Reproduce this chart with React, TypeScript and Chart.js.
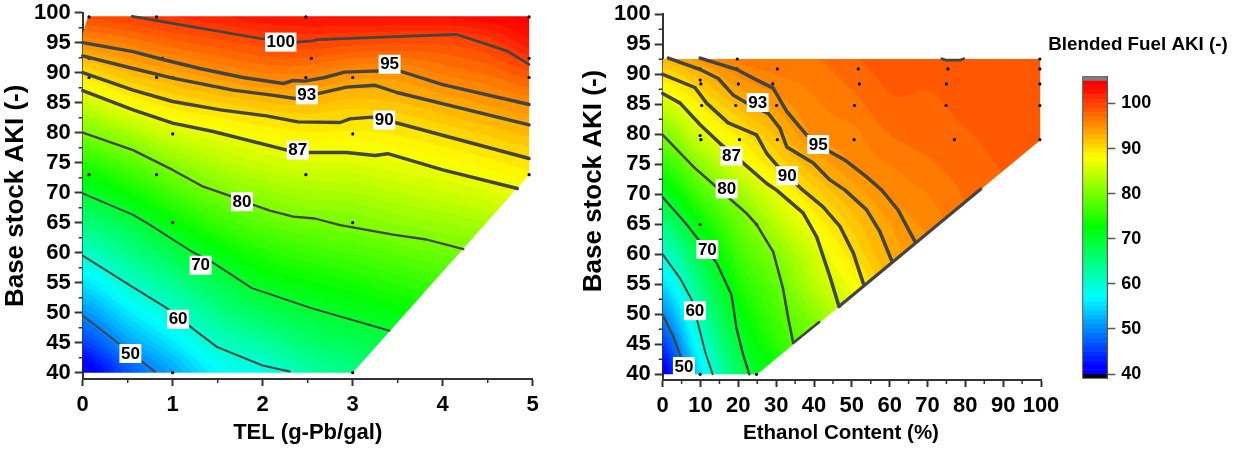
import React, { useEffect, useRef } from "react";
import { Chart, registerables } from "chart.js";

Chart.register(...registerables);

type P = number[];

// ---------- shared ticks ----------
const akiTicks = [40, 45, 50, 55, 60, 65, 70, 75, 80, 85, 90, 95, 100];
const akiMinorTicks = [42.5, 47.5, 52.5, 57.5, 62.5, 67.5, 72.5, 77.5, 82.5, 87.5, 92.5, 97.5];
const telTicks = [0, 1, 2, 3, 4, 5];
const telMinorTicks = [0.5, 1.5, 2.5, 3.5, 4.5];
const ethTicks = [0, 10, 20, 30, 40, 50, 60, 70, 80, 90, 100];
const ethMinorTicks = [5, 15, 25, 35, 45, 55, 65, 75, 85, 95];
const barTicks = [40, 50, 60, 70, 80, 90, 100];

// ---------- left panel: TEL ----------
const telGridX = [0, 0.5, 1, 1.5, 2, 2.5, 3, 3.5, 4, 4.5, 5];
const telGridY = [40, 45, 50, 55, 60, 65, 70, 75, 80, 85, 90, 95, 100];
const telField = [
  [40, 45.4, 50.5, 55.5, 60.5, 65.3, 70.1, 75, 80, 85, 90, 95, 99.5],
  [46.7, 51.2, 55.7, 60.2, 64.3, 68.4, 73, 77.7, 82.7, 87.8, 92.2, 96.2, 100.3],
  [51.7, 55.8, 60, 64.1, 68.2, 72.4, 76.7, 81.1, 85.6, 89.8, 93.6, 97.6, 101.2],
  [56.9, 60.6, 64.3, 67.9, 71.8, 75.8, 79.8, 83.5, 87, 90.9, 94.9, 98.6, 102],
  [58.9, 63, 67.2, 71.1, 74.6, 78.2, 81.6, 85, 88.2, 91.9, 96, 99.5, 103],
  [62.6, 66, 69.3, 72.7, 76.1, 79.5, 82.7, 85.9, 88.9, 92.3, 96, 99.9, 103.3],
  [64.5, 67.6, 70.8, 73.9, 77, 80.1, 83, 86, 88.8, 91.6, 94.9, 99.4, 103.5],
  [66, 69.1, 72.1, 75.2, 78.2, 81.2, 84, 86.9, 89.2, 92, 94.9, 99.2, 103.5],
  [67.7, 70.6, 73.4, 76.3, 79.2, 82, 84.9, 87.6, 90.2, 93.1, 96.2, 99.2, 103.5],
  [69.3, 72, 74.8, 77.5, 80.2, 83, 85.9, 88.6, 91.3, 94.3, 97.2, 100.2, 104],
  [72.5, 75, 77.5, 80, 82.5, 85, 87.4, 89.7, 92.4, 95.3, 98.8, 102.7, 104.5],
];
const telBoundary: P[] = [[0, 40], [3, 40], [4.96, 73], [4.96, 99.4], [0.06, 99.4], [0, 96.5]];
const telContour100: P[] = [[0.55, 99.4], [1.97, 95.7], [2.38, 95.1], [2.56, 95.3], [2.6, 95.5], [4.15, 96.4], [4.72, 93.6], [4.96, 91.4]];
const telContour95: P[] = [[0, 95], [0.56, 93.5], [0.89, 92.2], [1.3, 90.7], [1.78, 89.2], [2.23, 88.2], [2.34, 88.7], [2.47, 88.6], [2.69, 89.2], [2.91, 90.1], [3.3, 90.3], [3.54, 90.2], [4, 88], [4.96, 84.7]];
const telContour93: P[] = [[0, 92.8], [0.56, 90.7], [1, 89.1], [1.67, 87.1], [2.08, 86.3], [2.36, 85.7], [2.64, 86.6], [2.93, 87.6], [3.25, 87.9], [3.49, 86.7], [4.96, 81.3]];
const telContour90: P[] = [[0, 90], [0.56, 87.1], [1, 85.2], [1.53, 83.8], [2.04, 82.8], [2.39, 81.8], [2.86, 81.7], [2.97, 82.3], [3.21, 82.6], [3.47, 81.7], [4.96, 75.7]];
const telContour87: P[] = [[0, 87], [0.56, 83.8], [1, 81.6], [1.45, 80.2], [2.27, 77.1], [2.5, 76.7], [2.93, 76.7], [3.25, 76.2], [3.39, 76.5], [4, 73.8], [4.83, 70.7]];
const telContour80: P[] = [[0, 80], [0.56, 77.1], [1, 73.8], [1.34, 71], [1.67, 69.3], [1.89, 68], [2.08, 67], [2.34, 66], [2.58, 65.7], [2.86, 64.6], [3.45, 63], [3.82, 62.2], [4.23, 60.6]];
const telContour70: P[] = [[0, 69.9], [0.56, 66.3], [0.73, 64.8], [1.21, 60.2], [1.45, 58.3], [1.88, 54.1], [2.08, 53.1], [2.53, 50.8], [3.41, 47]];
const telContour60: P[] = [[0, 59.5], [0.49, 54.9], [0.93, 50.8], [1.27, 46.8], [1.49, 44.3], [2, 41.2], [2.3, 40.2]];
const telContour50: P[] = [[0, 49.5], [0.39, 45], [0.8, 40.2]];
const telDots: P[] = [[0.07, 99.3], [0.82, 99.3], [2.48, 99.3], [4.96, 99.3], [0.07, 92.4], [0.885, 92.4], [2.54, 92.4], [4.96, 92.4], [0.07, 89.2], [0.82, 89.2], [1, 89.2], [2.48, 89.2], [3, 89.2], [4.96, 89.2], [1, 79.8], [3, 79.8], [0.07, 73], [0.82, 73], [2.48, 73], [4.96, 73], [1, 65], [3, 65], [1, 40], [3, 40]];
const telLabels: [number, number, string][] = [[2.2, 95.1, "100"], [3.41, 91.4, "95"], [2.49, 86.3, "93"], [3.35, 82.1, "90"], [2.39, 77.1, "87"], [1.77, 68.5, "80"], [1.31, 57.9, "70"], [1.06, 48.9, "60"], [0.53, 43.2, "50"]];

// ---------- right panel: Ethanol ----------
const ethGridX = [0, 10, 20, 30, 40, 50, 60, 70, 80, 90, 100];
const ethGridY = [40, 45, 50, 55, 60, 65, 70, 75, 80, 85, 90, 95];
const ethField = [
  [40.5, 45.2, 50.1, 55, 60, 65.3, 70.5, 75.3, 80.1, 85.2, 90, 94.5],
  [55.5, 58.8, 62.1, 65.4, 68.7, 72.6, 76.9, 81.2, 85.7, 89.1, 92.6, 96],
  [67, 69.3, 71.6, 74, 76.3, 78.6, 81.8, 86.2, 89.3, 92.4, 95.2, 96.8],
  [73, 75, 76.8, 78.5, 80.6, 83.6, 86.7, 90, 92.2, 94.4, 96, 97],
  [78, 79.5, 81, 83.6, 85.3, 88, 90.4, 92.9, 95.2, 95.8, 96.5, 97.2],
  [81.5, 83.5, 85.5, 87.5, 89.7, 91.3, 93.1, 95, 95.7, 96.6, 97.4, 98.1],
  [89, 89, 90.5, 92, 93.2, 94, 95.1, 96, 97, 97.8, 98.3, 98.8],
  [92.5, 93, 93.5, 94, 94.5, 95.3, 96, 96.8, 97.5, 97.8, 98.3, 98.7],
  [95, 95.4, 95.7, 96, 96.4, 96.7, 97.1, 97.5, 97.9, 98.3, 98.6, 98.8],
  [96.3, 96.5, 96.8, 97, 97.2, 97.5, 97.8, 98.1, 98.4, 98.6, 98.7, 98.9],
  [97, 97.2, 97.4, 97.6, 97.8, 98, 98.3, 98.5, 98.7, 98.8, 98.8, 98.9],
];
const ethBoundary: P[] = [[0, 40], [25, 40], [99.8, 79], [99.8, 92.55], [0, 92.55]];
const ethContour100: P[] = [[73.8, 92.6], [75, 92.35], [78.5, 92.35], [79.6, 92.6]];
const ethContour95: P[] = [[9.9, 92.7], [19.6, 90.8], [24.4, 89.2], [29.2, 87.7], [32.8, 83.8], [38, 79.9], [44.2, 77.1], [48.2, 75.7], [53.9, 72.9], [57.9, 70.7], [62.2, 67.4], [66.7, 62.1]];
const ethContour93: P[] = [[1.5, 92.7], [9.9, 90.8], [14.7, 89.3], [18.7, 86.5], [22.2, 85.2], [27.9, 83.5], [31, 81], [32.8, 77.9], [39.8, 75.2], [44.2, 72.4], [48.2, 70.7], [53.9, 67.4], [57.4, 63.8], [60.5, 59]];
const ethContour90: P[] = [[0, 90], [8.5, 87.8], [11.6, 85.2], [17.3, 81.9], [24.8, 79.9], [27.5, 76.8], [30.1, 74.9], [36.5, 71], [42.4, 67.9], [46.9, 64.6], [50.4, 60.2], [53, 55.2]];
const ethContour87: P[] = [[0, 86.8], [4.6, 85.2], [9.9, 81.6], [15.1, 78.5], [21.3, 75.2], [27.5, 71.8], [30.1, 70.7], [37.1, 66.9], [40.7, 62.9], [44.2, 56.3], [46.6, 51.3]];
const ethContour80: P[] = [[0, 79.9], [8.1, 74.6], [22.2, 66.8], [24.8, 65], [29.2, 60.4], [31.8, 54.3], [33.2, 49.3], [34.5, 45.2], [41.4, 48.7]];
const ethContour70: P[] = [[0, 69.5], [6.3, 65], [14.3, 58.5], [18.2, 53.2], [19.5, 47.7], [21.3, 43.2], [22.9, 40]];
const ethContour60: P[] = [[0, 60], [4.6, 56], [7.7, 52.4], [9.9, 47.1], [11.2, 43.8], [13.2, 40]];
const ethContour50: P[] = [[0, 49.9], [2.8, 46.3], [4.6, 43.2], [5.2, 42]];
const ethEdge: P[] = [[46.6, 51.3], [84.1, 70.9]];
const ethDots: P[] = [[19.7, 92.55], [30.3, 90.9], [9.9, 90.9], [19.6, 90.9], [9.9, 89.05], [10.1, 88.4], [20, 88.4], [29.1, 88.4], [10.3, 84.8], [19.3, 84.8], [30.1, 84.8], [9.9, 79.8], [10.1, 79.1], [20.3, 79.1], [24.8, 79.8], [30.3, 79.1], [9.9, 65], [24.8, 65], [9.9, 40], [24.8, 40], [51.7, 90.9], [52, 88.4], [50.7, 84.8], [50.6, 79.1], [75.4, 90.9], [75, 88.4], [74.9, 84.8], [77.1, 79.1], [99.7, 92.55], [99.7, 90.9], [99.7, 88.4], [99.7, 84.8], [99.7, 79.1]];
const ethLabels: [number, number, string][] = [[41.1, 78.3, "95"], [25.1, 85.3, "93"], [32.9, 73.1, "90"], [18.2, 76.4, "87"], [16.9, 70.9, "80"], [11.8, 60.8, "70"], [8.5, 50.6, "60"], [5.6, 41.3, "50"]];

// ---------- colour bar ----------
const barMin = 40;
const barMax = 105;
const barLow = 39.05;
const barHigh = 105.95;

const FONT = '"Liberation Sans", Arial, sans-serif';
const INK = "#333333";
const LINE = "#444444";
const TEXT = "#000000";

const hueStops: [number, number[]][] = [
  [41.6, [0, 0, 255]],
  [57, [0, 255, 255]],
  [72.7, [0, 255, 0]],
  [88, [255, 255, 0]],
  [104, [255, 0, 0]],
];

function bandColour(v: number): number[] {
  const b = Math.floor(v) + 0.5;
  if (b <= hueStops[0][0]) return hueStops[0][1];
  for (let i = 1; i < hueStops.length; i++) {
    if (b <= hueStops[i][0]) {
      const [a0, c0] = hueStops[i - 1];
      const [a1, c1] = hueStops[i];
      const t = (b - a0) / (a1 - a0);
      return c0.map((c, k) => Math.round(c + (c1[k] - c) * t));
    }
  }
  return hueStops[hueStops.length - 1][1];
}

function locate(arr: number[], v: number): [number, number] {
  if (v <= arr[0]) return [0, 0];
  for (let i = 1; i < arr.length; i++) {
    if (v <= arr[i]) return [i - 1, (v - arr[i - 1]) / (arr[i] - arr[i - 1])];
  }
  return [arr.length - 2, 1];
}

function smooth(p0: number, p1: number, p2: number, p3: number, t: number) {
  return p1 + 0.5 * t * (p2 - p0 + t * (2 * p0 - 5 * p1 + 4 * p2 - p3 + t * (3 * (p1 - p2) + p3 - p0)));
}

function fieldPlugin(gx: number[], gy: number[], field: number[][], boundary: P[]) {
  const cols = gx.length;
  const rows = gy.length;
  const at = (c: number, r: number) => field[Math.max(0, Math.min(cols - 1, c))][Math.max(0, Math.min(rows - 1, r))];
  return {
    id: "field",
    beforeDatasetsDraw(chart: any) {
      const { ctx, chartArea: a, scales } = chart;
      const w = Math.ceil(a.width) + 1;
      const h = Math.ceil(a.height) + 1;
      const off = document.createElement("canvas");
      off.width = w;
      off.height = h;
      const oc = off.getContext("2d")!;
      const img = oc.createImageData(w, h);
      const ox = Math.floor(a.left);
      const oy = Math.floor(a.top);
      for (let j = 0; j < h; j++) {
        const [r, ry] = locate(gy, scales.y.getValueForPixel(oy + j + 0.5));
        for (let i = 0; i < w; i++) {
          const [c, rx] = locate(gx, scales.x.getValueForPixel(ox + i + 0.5));
          const q = [-1, 0, 1, 2].map((d) =>
            smooth(at(c + d, r - 1), at(c + d, r), at(c + d, r + 1), at(c + d, r + 2), ry),
          );
          const col = bandColour(smooth(q[0], q[1], q[2], q[3], rx));
          const o = (j * w + i) * 4;
          img.data[o] = col[0];
          img.data[o + 1] = col[1];
          img.data[o + 2] = col[2];
          img.data[o + 3] = 255;
        }
      }
      oc.putImageData(img, 0, 0);
      ctx.save();
      ctx.beginPath();
      boundary.forEach(([x, y], i) => {
        const px = scales.x.getPixelForValue(x);
        const py = scales.y.getPixelForValue(y);
        if (i === 0) ctx.moveTo(px, py);
        else ctx.lineTo(px, py);
      });
      ctx.closePath();
      ctx.clip();
      ctx.drawImage(off, ox, oy);
      ctx.restore();
    },
  };
}

function labelPlugin(labels: [number, number, string][]) {
  return {
    id: "contourLabels",
    afterDatasetsDraw(chart: any) {
      const { ctx, scales } = chart;
      ctx.save();
      ctx.font = `bold 17px ${FONT}`;
      ctx.textAlign = "center";
      ctx.textBaseline = "middle";
      labels.forEach(([x, y, t]) => {
        const px = scales.x.getPixelForValue(x);
        const py = scales.y.getPixelForValue(y);
        const tw = ctx.measureText(t).width + 3;
        ctx.fillStyle = "#ffffff";
        ctx.fillRect(px - tw / 2, py - 9.5, tw, 19);
        ctx.fillStyle = TEXT;
        ctx.fillText(t, px, py + 0.5);
      });
      ctx.restore();
    },
  };
}

function minorTickPlugin(xMinor: number[], yMinor: number[]) {
  return {
    id: "minorTicks",
    afterDraw(chart: any) {
      const { ctx, scales, chartArea: a } = chart;
      ctx.save();
      ctx.strokeStyle = INK;
      ctx.lineWidth = 1.5;
      ctx.beginPath();
      xMinor.forEach((v) => {
        const p = scales.x.getPixelForValue(v);
        ctx.moveTo(p, a.bottom);
        ctx.lineTo(p, a.bottom + 4);
      });
      yMinor.forEach((v) => {
        const p = scales.y.getPixelForValue(v);
        ctx.moveTo(a.left, p);
        ctx.lineTo(a.left - 4, p);
      });
      ctx.stroke();
      ctx.restore();
    },
  };
}

type Caption = { text: string; x: number; y: number; size: number; rotate?: boolean };

function captionPlugin(items: Caption[]) {
  return {
    id: "captions",
    afterDraw(chart: any) {
      const { ctx } = chart;
      items.forEach((c) => {
        ctx.save();
        ctx.translate(c.x, c.y);
        if (c.rotate) ctx.rotate(-Math.PI / 2);
        ctx.font = `bold ${c.size}px ${FONT}`;
        ctx.fillStyle = TEXT;
        ctx.textAlign = "center";
        ctx.textBaseline = "middle";
        ctx.fillText(c.text, 0, 0);
        ctx.restore();
      });
    },
  };
}

function fixedBox(kind: "w" | "h", size: number) {
  return (scale: any) => {
    if (kind === "w") scale.width = size;
    else scale.height = size;
    scale.paddingLeft = 0;
    scale.paddingRight = 0;
    scale.paddingTop = 0;
    scale.paddingBottom = 0;
  };
}

function setTicks(values: number[]) {
  return (scale: any) => {
    scale.ticks = values.map((value) => ({ value }));
  };
}

function lineSet(data: P[], width: number) {
  return {
    type: "scatter",
    data: data.map(([x, y]) => ({ x, y })),
    showLine: true,
    borderColor: LINE,
    backgroundColor: LINE,
    borderWidth: width,
    borderCapStyle: "round",
    borderJoinStyle: "round",
    pointRadius: 0,
    tension: 0,
    clip: false,
  };
}

function dotSet(data: P[]) {
  return {
    type: "scatter",
    data: data.map(([x, y]) => ({ x, y })),
    showLine: false,
    pointRadius: 1.6,
    pointBorderWidth: 0,
    pointBackgroundColor: "#000000",
    clip: false,
  };
}

const W = 1233;
const H = 449;

function panelConfig(p: {
  left: number;
  right: number;
  top: number;
  bottom: number;
  xMax: number;
  yMin: number;
  xTicks: number[];
  xMinor: number[];
  xTitle?: string;
  xTitleSize?: number;
  yTitle?: string;
  yTitleSize?: number;
  captions: Caption[];
  lines: [P[], number][];
  dots: P[];
  labels: [number, number, string][];
  gx: number[];
  gy: number[];
  field: number[][];
  boundary: P[];
}) {
  return {
    type: "scatter",
    data: {
      datasets: [...p.lines.map(([d, w]) => lineSet(d, w)), dotSet(p.dots)],
    },
    plugins: [
      fieldPlugin(p.gx, p.gy, p.field, p.boundary),
      labelPlugin(p.labels),
      minorTickPlugin(p.xMinor, akiMinorTicks),
      captionPlugin(p.captions),
    ],
    options: {
      animation: false,
      responsive: false,
      devicePixelRatio: 1,
      layout: { padding: { left: 0, top: p.top, right: W - p.right, bottom: 0 } },
      plugins: { legend: { display: false }, tooltip: { enabled: false } },
      scales: {
        x: {
          type: "linear",
          min: 0,
          max: p.xMax,
          afterBuildTicks: setTicks(p.xTicks),
          afterFit: fixedBox("h", H - p.bottom),
          border: { display: true, color: INK, width: 2 },
          grid: { drawOnChartArea: false, drawTicks: true, tickLength: 7, tickColor: INK, tickWidth: 2 },
          ticks: {
            autoSkip: false,
            maxRotation: 0,
            padding: 6,
            color: TEXT,
            font: { family: FONT, size: 22, weight: "bold" },
            callback: (v: number) => String(v),
          },
          title: {
            display: !!p.xTitle,
            text: p.xTitle,
            color: TEXT,
            font: { family: FONT, size: p.xTitleSize, weight: "bold" },
            padding: { top: 0, bottom: 3 },
          },
        },
        y: {
          type: "linear",
          min: p.yMin,
          max: 100,
          afterBuildTicks: setTicks(akiTicks),
          afterFit: fixedBox("w", p.left),
          border: { display: true, color: INK, width: 2 },
          grid: { drawOnChartArea: false, drawTicks: true, tickLength: 8, tickColor: INK, tickWidth: 2 },
          ticks: {
            autoSkip: false,
            padding: 4,
            color: TEXT,
            font: { family: FONT, size: 22, weight: "bold" },
            callback: (v: number) => String(v),
          },
          title: {
            display: !!p.yTitle,
            text: p.yTitle,
            color: TEXT,
            font: { family: FONT, size: p.yTitleSize, weight: "bold" },
            padding: { top: 0, bottom: 0 },
          },
        },
      },
    },
  };
}

function colourBarConfig() {
  const bands: any[] = [];
  for (let lo = barMin; lo < barMax; lo++) {
    const c = bandColour(lo);
    bands.push({
      data: [[lo, lo + 1]],
      backgroundColor: `rgb(${c[0]},${c[1]},${c[2]})`,
      barPercentage: 1,
      categoryPercentage: 1,
      grouped: false,
      borderWidth: 0,
    });
  }
  bands.push({ data: [[barMax, barHigh]], backgroundColor: "#808080", barPercentage: 1, categoryPercentage: 1, grouped: false });
  bands.push({ data: [[barLow, barMin]], backgroundColor: "#000000", barPercentage: 1, categoryPercentage: 1, grouped: false });
  return {
    type: "bar",
    data: { labels: ["AKI"], datasets: bands },
    plugins: [
      {
        id: "barFrame",
        afterDatasetsDraw(chart: any) {
          const { ctx, chartArea: a } = chart;
          ctx.save();
          ctx.strokeStyle = "#555555";
          ctx.lineWidth = 1;
          ctx.strokeRect(a.left, a.top, a.width, a.height);
          ctx.restore();
        },
      },
      captionPlugin([{ text: "Blended Fuel AKI (-)", x: 1138, y: 45, size: 18.8 }]),
    ],
    options: {
      animation: false,
      responsive: false,
      devicePixelRatio: 1,
      layout: { padding: { left: 1082.7, top: 76.7, right: 0, bottom: 0 } },
      plugins: { legend: { display: false }, tooltip: { enabled: false } },
      scales: {
        x: {
          display: false,
          afterFit: fixedBox("h", H - 378.3),
        },
        y: {
          position: "right",
          type: "linear",
          min: barLow,
          max: barHigh,
          afterBuildTicks: setTicks(barTicks),
          afterFit: fixedBox("w", W - 1107.3),
          border: { display: true, color: "#555555", width: 1 },
          grid: { drawOnChartArea: false, drawTicks: true, tickLength: 8, tickColor: "#555555", tickWidth: 1.5 },
          ticks: {
            autoSkip: false,
            padding: 6,
            color: TEXT,
            font: { family: FONT, size: 18, weight: "bold" },
            callback: (v: number) => String(v),
          },
        },
      },
    },
  };
}

function Panel({ make }: { make: () => any }) {
  const ref = useRef<HTMLCanvasElement | null>(null);
  useEffect(() => {
    const chart = new Chart(ref.current as HTMLCanvasElement, make());
    return () => chart.destroy();
  }, [make]);
  return (
    <canvas
      ref={ref}
      width={W}
      height={H}
      style={{ position: "absolute", left: 0, top: 0, width: W, height: H, display: "block" }}
    />
  );
}

const makeLeft = () =>
  panelConfig({
    left: 82.7,
    right: 532.7,
    top: 12.7,
    bottom: 379,
    xMax: 5,
    yMin: 38.95,
    xTicks: telTicks,
    xMinor: telMinorTicks,
    xTitle: "TEL (g-Pb/gal)",
    xTitleSize: 22,
    yTitle: "Base stock AKI (-)",
    yTitleSize: 26,
    captions: [],
    lines: [
      [telContour100, 2.7],
      [telContour95, 3.4],
      [telContour93, 3.4],
      [telContour90, 3.4],
      [telContour87, 3.4],
      [telContour80, 2.3],
      [telContour70, 2],
      [telContour60, 2],
      [telContour50, 2],
    ],
    dots: telDots,
    labels: telLabels,
    gx: telGridX,
    gy: telGridY,
    field: telField,
    boundary: telBoundary,
  });

const makeRight = () =>
  panelConfig({
    left: 662.7,
    right: 1041,
    top: 14.3,
    bottom: 380,
    xMax: 100,
    yMin: 39.05,
    xTicks: ethTicks,
    xMinor: ethMinorTicks,
    captions: [
      { text: "Base stock AKI (-)", x: 594, y: 181, size: 26, rotate: true },
      { text: "Ethanol Content (%)", x: 841, y: 433, size: 20.5 },
    ],
    lines: [
      [ethContour100, 2.7],
      [ethContour95, 3.5],
      [ethContour93, 3.5],
      [ethContour90, 3.5],
      [ethContour87, 3.5],
      [ethContour80, 2.6],
      [ethContour70, 2.4],
      [ethContour60, 2],
      [ethContour50, 2.4],
      [ethEdge, 3.2],
    ],
    dots: ethDots,
    labels: ethLabels,
    gx: ethGridX,
    gy: ethGridY,
    field: ethField,
    boundary: ethBoundary,
  });

export default function App() {
  return (
    <div style={{ position: "fixed", left: 0, top: 0, width: W, height: H, background: "#ffffff", overflow: "hidden" }}>
      <Panel make={makeLeft} />
      <Panel make={makeRight} />
      <Panel make={colourBarConfig} />
    </div>
  );
}
